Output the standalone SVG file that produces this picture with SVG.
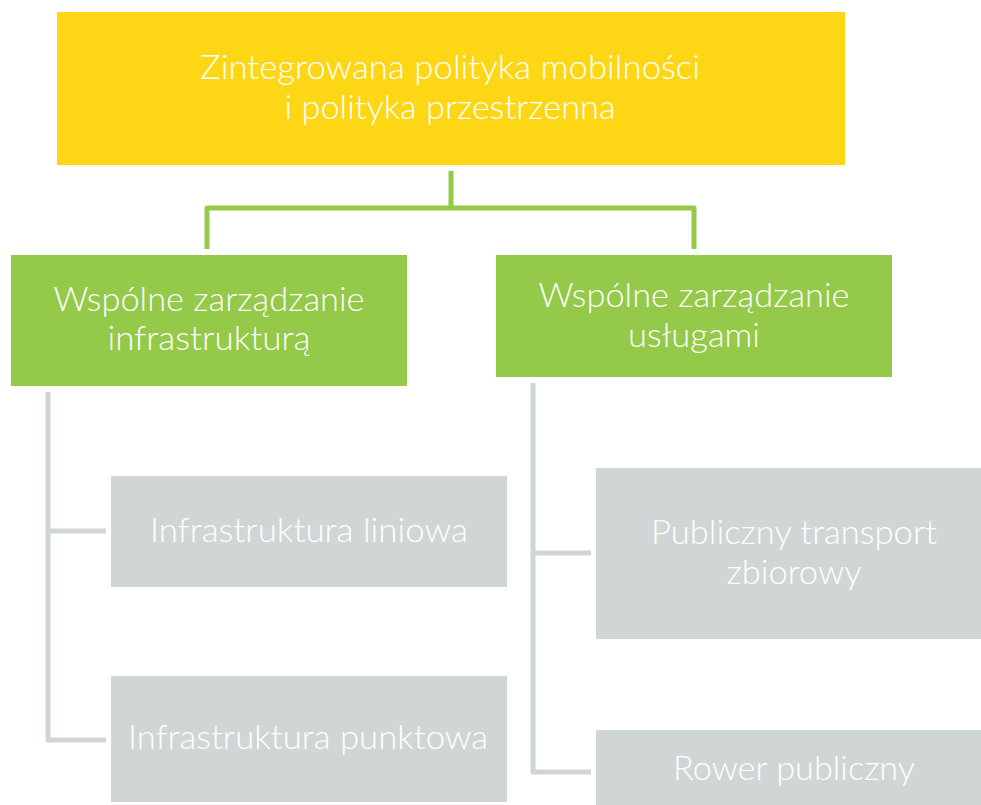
<svg xmlns="http://www.w3.org/2000/svg" width="981" height="805" viewBox="0 0 981 805">
<style>
  text { font-family: Lato, "Open Sans", "Liberation Sans", sans-serif; font-weight: 300; font-size: 33px; fill: #ffffff; text-anchor: middle; }
  .yellow { fill: #FDD616; }
  .green { fill: #95C94A; }
  .gray { fill: #D0D6D6; }
  .cg { fill: none; stroke: #95C94A; stroke-width: 5; stroke-linejoin: round; }
  .cy { fill: none; stroke: #D0D6D6; stroke-width: 5; stroke-linejoin: round; }
</style>
<rect width="981" height="805" fill="#ffffff"/>
<g id="connectors">
  <path class="cg" d="M451,171 V208 M207,249 V208 H694 V249"/>
  <path class="cy" d="M48,392 V740 H106 M48,531 H106"/>
  <path class="cy" d="M533,383 V772 H591 M533,553 H591"/>
</g>
<g id="node-top">
  <rect class="yellow" x="57" y="12" width="788" height="153"/>
  <text x="450" y="79" textLength="500" lengthAdjust="spacingAndGlyphs">Zintegrowana polityka mobilności</text>
  <text x="450" y="119" textLength="331" lengthAdjust="spacingAndGlyphs">i polityka przestrzenna</text>
</g>
<g id="node-infra">
  <rect class="green" x="11" y="255" width="396" height="131"/>
  <text x="209" y="311" textLength="311" lengthAdjust="spacingAndGlyphs">Wspólne zarządzanie</text>
  <text x="209" y="350" textLength="203" lengthAdjust="spacingAndGlyphs">infrastrukturą</text>
</g>
<g id="node-uslugi">
  <rect class="green" x="496" y="255" width="396" height="122"/>
  <text x="694" y="307" textLength="311" lengthAdjust="spacingAndGlyphs">Wspólne zarządzanie</text>
  <text x="694" y="347" textLength="132" lengthAdjust="spacingAndGlyphs">usługami</text>
</g>
<g id="node-liniowa">
  <rect class="gray" x="111" y="476" width="396" height="111"/>
  <text x="309" y="542" textLength="318" lengthAdjust="spacingAndGlyphs">Infrastruktura liniowa</text>
</g>
<g id="node-punktowa">
  <rect class="gray" x="111" y="676" width="396" height="126"/>
  <text x="308" y="749" textLength="360" lengthAdjust="spacingAndGlyphs">Infrastruktura punktowa</text>
</g>
<g id="node-transport">
  <rect class="gray" x="596" y="468" width="396" height="171"/>
  <text x="794" y="544" textLength="286" lengthAdjust="spacingAndGlyphs">Publiczny transport</text>
  <text x="794" y="584" textLength="135" lengthAdjust="spacingAndGlyphs">zbiorowy</text>
</g>
<g id="node-rower">
  <rect class="gray" x="596" y="730" width="396" height="80"/>
  <text x="794" y="780" textLength="242" lengthAdjust="spacingAndGlyphs">Rower publiczny</text>
</g>
</svg>
